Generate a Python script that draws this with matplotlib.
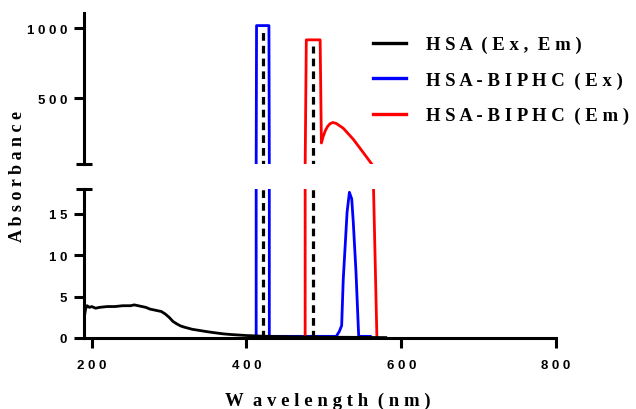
import matplotlib
matplotlib.use('Agg')
import matplotlib.pyplot as plt
from matplotlib.lines import Line2D
from matplotlib.ticker import FuncFormatter

# HSA absorbance spectrum (black, solid)
hsa_wl = [190, 192, 194, 197, 200, 205, 210, 220, 230, 240, 250, 255, 260, 265, 270, 275,
          280, 285, 290, 295, 300, 305, 310, 315, 320, 330, 340, 350, 360, 370, 380, 390,
          400, 420, 440, 460, 480, 500, 540, 580]
hsa_abs = [2.3, 3.5, 3.9, 3.7, 3.8, 3.6, 3.7, 3.8, 3.8, 3.9, 3.9, 4.0, 3.9, 3.8, 3.7, 3.5,
           3.4, 3.3, 3.2, 2.9, 2.5, 2.0, 1.7, 1.45, 1.3, 1.05, 0.9, 0.75, 0.62, 0.5, 0.42, 0.36,
           0.3, 0.22, 0.18, 0.15, 0.12, 0.1, 0.08, 0.05]

# HSA fluorescence (Ex, Em) peaks, dashed black
hsa_ex_wl = [421.5, 421.5]
hsa_ex_val = [0, 1000]
hsa_em_wl = [486.5, 486.5]
hsa_em_val = [0, 875]

# HSA-BIPHC (Ex), blue
ex_wl = [405, 412.5, 413, 429, 429.5, 440, 500, 516, 520, 523, 525, 530, 533, 536, 538, 541.5, 545, 560]
ex_val = [0.2, 0.2, 1020, 1020, 0.2, 0.2, 0.2, 0.2, 0.8, 1.5, 7, 15.2, 17.6, 16.8, 14, 8, 0.2, 0.2]

# HSA-BIPHC (Em), red
em_wl = [475.8, 477.3, 495.2, 496.8, 499, 502, 505, 508, 511.5, 516, 525, 538, 551, 562.5, 568.5]
em_val = [0.2, 918, 918, 180, 225, 270, 300, 318, 327, 320, 286, 207, 111, 25, 0.2]

labels = ['H S A  ( E x ,  E m )', 'H S A - B I P H C  ( E x )', 'H S A - B I P H C  ( E m )']
colors = ['black', '#0000ff', '#ff0000']

serif = 'Liberation Serif'
sans = 'Liberation Sans'

fig = plt.figure(figsize=(6.36, 4.10), dpi=100)
ax_top = fig.add_axes([84/636, 1 - 165/410, 472/636, 151/410])
ax_bot = fig.add_axes([84/636, 1 - 339/410, 472/636, 149/410])

lw = 2.0
for ax in (ax_top, ax_bot):
    ax.plot(ex_wl, ex_val, color=colors[1], lw=lw)
    ax.plot(em_wl, em_val, color=colors[2], lw=lw)
    ax.plot(hsa_wl, hsa_abs, color=colors[0], lw=lw)
    ax.plot(hsa_ex_wl, hsa_ex_val, color='black', lw=2.3, ls=(0, (2.4, 1.6)))
    ax.plot(hsa_em_wl, hsa_em_val, color='black', lw=2.3, ls=(0, (2.4, 1.6)))
    ax.set_xlim(190, 800)
    ax.spines['top'].set_visible(False)
    ax.spines['right'].set_visible(False)
    ax.spines['left'].set_linewidth(2.2)
    ax.spines['bottom'].set_linewidth(2.2)
    ax.tick_params(axis='y', which='major', direction='out', length=7, width=2.2, pad=5)
    ax.tick_params(axis='y', which='minor', direction='inout', length=12, width=2.2)
    ax.yaxis.set_major_formatter(FuncFormatter(lambda v, p: ' '.join(str(int(v)))))

ax_top.set_ylim(30, 1110)
ax_top.set_yticks([500, 1000])
ax_top.set_yticks([30], minor=True)
ax_top.spines['bottom'].set_visible(False)
ax_top.set_xticks([])

ax_bot.set_ylim(0, 18)
ax_bot.set_yticks([0, 5, 10, 15])
ax_bot.set_yticks([18], minor=True)
ax_bot.set_xticks([200, 400, 600, 800])
ax_bot.xaxis.set_major_formatter(FuncFormatter(lambda v, p: ' '.join(str(int(v)))))
ax_bot.tick_params(axis='x', direction='out', length=7, width=2.2, pad=8)

for ax in (ax_top, ax_bot):
    for t in ax.get_xticklabels() + ax.get_yticklabels():
        t.set_fontfamily(sans)
        t.set_fontweight('bold')
        t.set_fontsize(9.5)

fig.text(18/636, 1 - 177/410, 'A b s o r b a n c e', rotation=90, ha='center', va='center',
         family=serif, fontweight='bold', fontsize=13)
fig.text(328/636, 1 - 401/410, 'W  a v e l e n g t h  ( n m )', ha='center', va='center',
         family=serif, fontweight='bold', fontsize=13.5)

handles = [Line2D([], [], color=c, lw=2.4) for c in colors]
fig.legend(handles, labels, loc='upper left', bbox_to_anchor=(356/636, 1 - 20/410),
           frameon=False, handlelength=1.76, handletextpad=1.07, labelspacing=0.97,
           prop={'family': serif, 'weight': 'bold', 'size': 13.5})

fig.savefig('out.png', dpi=100)
